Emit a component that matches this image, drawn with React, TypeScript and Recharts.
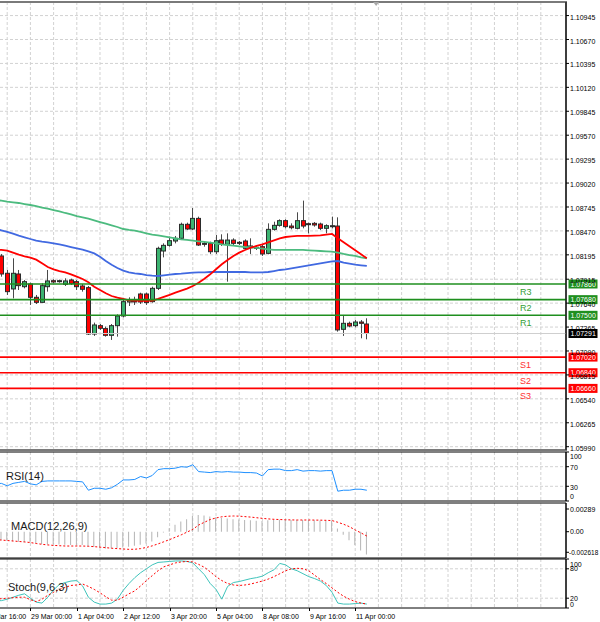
import React from 'react';
import {
  ComposedChart,
  Bar,
  Line,
  XAxis,
  YAxis,
  CartesianGrid,
  ReferenceLine,
  ReferenceArea,
  ReferenceDot,
} from 'recharts';

// ---------- data (H4 bars, index 0 = 29 Mar 00:00) ----------
const bars = [-6, -5, -4, -3, -2, -1, 0, 1, 2, 3, 4, 5, 6, 7, 8, 9, 10, 11, 12, 13, 14, 15, 16, 17, 18, 19, 20, 21, 22, 23, 24, 25, 26, 27, 28, 29, 30, 31, 32, 33, 34, 35, 36, 37, 38, 39, 40, 41, 42, 43, 44, 45, 46, 47, 48, 49, 50, 51, 52, 53, 54, 55, 56, 57, 58];

const open = [null, 1.08182, 1.07983, 1.07803, 1.07975, 1.07829, 1.07860, 1.07707, 1.07649, 1.07829, 1.07898, 1.07891, 1.07856, 1.07906, 1.07887, 1.07837,
  1.07818, 1.07285, 1.07381, 1.07347, 1.07270, 1.07381, 1.07492, 1.07653, 1.07657, 1.07745,
  1.07745, 1.07657, 1.07810, 1.08239, 1.08304, 1.08354, 1.08385, 1.08546, 1.08492, 1.08614,
  1.08327, 1.08327, 1.08231, 1.08365, 1.08316, 1.08365, 1.08339, 1.08354, 1.08277, 1.08281,
  1.08289, 1.08212, 1.08488, 1.08534, 1.08588, 1.08526, 1.08500, 1.08588, 1.08553, 1.08557,
  1.08549, 1.08500, 1.08523, 1.08526, 1.07339, 1.07408, 1.07381, 1.07423, 1.07400];
const high = [null, 1.08205, 1.08021, 1.08155, 1.08021, 1.07906, 1.07875, 1.07734, 1.07868, 1.08021, 1.07914, 1.07910, 1.07925, 1.07921, 1.07906, 1.07860,
  1.07837, 1.07416, 1.07400, 1.07370, 1.07400, 1.07511, 1.07684, 1.07707, 1.07714, 1.07760,
  1.07760, 1.07829, 1.08289, 1.08327, 1.08404, 1.08412, 1.08565, 1.08565, 1.08733, 1.08634,
  1.08354, 1.08346, 1.08423, 1.08431, 1.08442, 1.08385, 1.08354, 1.08373, 1.08385, 1.08304,
  1.08308, 1.08557, 1.08576, 1.08603, 1.08603, 1.08557, 1.08684, 1.08818, 1.08565, 1.08572,
  1.08565, 1.08546, 1.08634, 1.08626, 1.07504, 1.07427, 1.07446, 1.07446, 1.07466];
const low = [null, 1.07944, 1.07734, 1.07695, 1.07791, 1.07810, 1.07619, 1.07630, 1.07646, 1.07772, 1.07868, 1.07875, 1.07837, 1.07849, 1.07791, 1.07772,
  1.07274, 1.07263, 1.07332, 1.07255, 1.07217, 1.07255, 1.07477, 1.07607, 1.07619, 1.07630,
  1.07619, 1.07646, 1.07791, 1.08166, 1.08289, 1.08327, 1.08365, 1.08480, 1.08480, 1.08297,
  1.08289, 1.08205, 1.08205, 1.08297, 1.07887, 1.08308, 1.08308, 1.08251, 1.08205, 1.08251,
  1.08182, 1.08201, 1.08473, 1.08519, 1.08500, 1.08488, 1.08488, 1.08500, 1.08442, 1.08519,
  1.08480, 1.08442, 1.08500, 1.07312, 1.07263, 1.07362, 1.07362, 1.07236, 1.07224];
const close = [null, 1.07975, 1.07772, 1.07983, 1.07841, 1.07887, 1.07707, 1.07649, 1.07841, 1.07895, 1.07883, 1.07898, 1.07895, 1.07864, 1.07829, 1.07799,
  1.07285, 1.07389, 1.07351, 1.07270, 1.07381, 1.07492, 1.07657, 1.07676, 1.07665, 1.07653,
  1.07646, 1.07810, 1.08270, 1.08304, 1.08358, 1.08385, 1.08546, 1.08492, 1.08614, 1.08308,
  1.08316, 1.08231, 1.08358, 1.08316, 1.08365, 1.08327, 1.08327, 1.08270, 1.08297, 1.08270,
  1.08205, 1.08488, 1.08534, 1.08588, 1.08519, 1.08507, 1.08588, 1.08526, 1.08546, 1.08538,
  1.08500, 1.08530, 1.08530, 1.07332, 1.07408, 1.07377, 1.07423, 1.07408, 1.07291];

const maRed = [1.08258, 1.08251, 1.08243, 1.08220, 1.08197, 1.08178, 1.08163, 1.08140, 1.08098, 1.08055, 1.08029, 1.08009, 1.07994, 1.07971, 1.07944, 1.07918,
  1.07879, 1.07829, 1.07791, 1.07753, 1.07722, 1.07703, 1.07688, 1.07672, 1.07669, 1.07665,
  1.07665, 1.07669, 1.07688, 1.07711, 1.07734, 1.07761, 1.07783, 1.07806, 1.07837, 1.07875,
  1.07921, 1.07971, 1.08029, 1.08086, 1.08136, 1.08182, 1.08220, 1.08251, 1.08278, 1.08297,
  1.08316, 1.08339, 1.08362, 1.08385, 1.08400, 1.08408, 1.08412, 1.08412, 1.08412, 1.08415,
  1.08419, 1.08427, 1.08435, 1.08385, 1.08339, 1.08293, 1.08247, 1.08201, 1.08155];
const maBlue = [1.08492, 1.08477, 1.08458, 1.08438, 1.08415, 1.08396, 1.08377, 1.08358, 1.08346, 1.08339, 1.08327, 1.08316, 1.08301, 1.08285, 1.08270, 1.08255,
  1.08235, 1.08212, 1.08174, 1.08124, 1.08082, 1.08044, 1.08013, 1.07994, 1.07983, 1.07975,
  1.07963, 1.07956, 1.07952, 1.07960, 1.07967, 1.07975, 1.07979, 1.07986, 1.07990, 1.07994,
  1.07994, 1.07998, 1.07998, 1.07998, 1.07998, 1.07998, 1.07998, 1.07998, 1.07994, 1.07994,
  1.07994, 1.07998, 1.08009, 1.08021, 1.08029, 1.08040, 1.08052, 1.08063, 1.08075, 1.08086,
  1.08098, 1.08109, 1.08121, 1.08124, 1.08105, 1.08094, 1.08082, 1.08075, 1.08067];
const maGreen = [1.08825, 1.08818, 1.08806, 1.08798, 1.08791, 1.08779, 1.08768, 1.08756, 1.08737, 1.08726, 1.08710, 1.08695, 1.08676, 1.08661, 1.08641, 1.08626,
  1.08611, 1.08592, 1.08572, 1.08553, 1.08534, 1.08515, 1.08492, 1.08481, 1.08473, 1.08458,
  1.08442, 1.08427, 1.08419, 1.08408, 1.08396, 1.08385, 1.08373, 1.08366, 1.08358, 1.08350,
  1.08343, 1.08335, 1.08327, 1.08316, 1.08308, 1.08301, 1.08293, 1.08285, 1.08281, 1.08274,
  1.08266, 1.08258, 1.08251, 1.08251, 1.08251, 1.08251, 1.08251, 1.08251, 1.08247, 1.08243,
  1.08239, 1.08235, 1.08232, 1.08220, 1.08205, 1.08193, 1.08182, 1.08166, 1.08155];

const rsi = [35, 36, 31, 36, 38, 40, 35, 33, 40, 41, 41, 41, 41, 41, 40, 39,
  22, 26, 26, 24, 27, 34, 43, 43, 44, 50,
  47, 52, 64, 66, 66, 67, 70, 69, 74, 60,
  59, 58, 60, 59, 60, 59, 59, 58, 58, 57,
  51, 64, 65, 65, 62, 62, 64, 61, 62, 62,
  61, 62, 62, 20, 22, 22, 24, 24, 22];

const macdHist = [-0.00100, -0.00106, -0.00112, -0.00120, -0.00127, -0.00135, -0.00140, -0.00148, -0.00155, -0.00158, -0.00161, -0.00163, -0.00165, -0.00168, -0.00169, -0.00170,
  -0.00185, -0.00195, -0.00205, -0.00212, -0.00212, -0.00208, -0.00200, -0.00190, -0.00178, -0.00165,
  -0.00150, -0.00125, -0.00070, -0.00010, 0.00043, 0.00090, 0.00130, 0.00160, 0.00200, 0.00212,
  0.00205, 0.00195, 0.00185, 0.00175, 0.00168, 0.00160, 0.00155, 0.00150, 0.00145, 0.00140,
  0.00135, 0.00145, 0.00150, 0.00152, 0.00150, 0.00148, 0.00150, 0.00150, 0.00148, 0.00145,
  0.00142, 0.00140, 0.00138, 0.00040, -0.00040, -0.00110, -0.00170, -0.00240, -0.00290];
const macdSignal = [-0.00102, -0.00106, -0.00112, -0.00118, -0.00124, -0.00130, -0.00138, -0.00150, -0.00160, -0.00168, -0.00174, -0.00178, -0.00182, -0.00182, -0.00182, -0.00182,
  -0.00185, -0.00190, -0.00196, -0.00203, -0.00210, -0.00215, -0.00220, -0.00224, -0.00223, -0.00215,
  -0.00200, -0.00180, -0.00155, -0.00128, -0.00100, -0.00070, -0.00040, -0.00005, 0.00030, 0.00085,
  0.00120, 0.00155, 0.00175, 0.00190, 0.00197, 0.00200, 0.00198, 0.00192, 0.00186, 0.00178,
  0.00170, 0.00163, 0.00158, 0.00155, 0.00152, 0.00150, 0.00149, 0.00149, 0.00149, 0.00148,
  0.00147, 0.00145, 0.00142, 0.00120, 0.00095, 0.00064, 0.00022, -0.00015, -0.00055];

const stochK = [15, 15, 18, 22, 26, 29, 20, 12, 10, 22, 37, 48, 52, 55, 56, 45,
  22, 12, 8, 8, 10, 18, 36, 50, 62, 72,
  80, 88, 93, 94, 95, 96, 96, 95, 92, 80,
  68, 50, 38, 18, 44, 52, 54, 57, 60, 62,
  65, 72, 78, 91, 88, 80, 76, 70, 64, 60,
  55, 46, 32, 10, 8, 8, 9, 10, 8];
const stochD = [18, 19, 20, 21, 22, 22, 17, 13, 18, 26, 32, 38, 42, 46, 47, 49,
  44, 38, 31, 23, 16, 16, 22, 29, 35, 45,
  56, 66, 76, 84, 88, 92, 94, 95, 94, 89,
  83, 74, 64, 56, 50, 47, 46, 47, 49, 52,
  55, 59, 64, 70, 76, 80, 81, 80, 76, 67,
  58, 50, 41, 32, 24, 18, 13, 10, 8];

const timeLabelBars = [-8, 0, 8, 16, 24, 32, 40, 48, 56];
const timeLabels = ['27 Mar 16:00', '29 Mar 00:00', '1 Apr 04:00', '2 Apr 12:00', '3 Apr 20:00', '5 Apr 04:00', '8 Apr 08:00', '9 Apr 16:00', '11 Apr 00:00'];
const gridBars = [-8, -4, 0, 4, 8, 12, 16, 20, 24, 28, 32, 36, 40, 44, 48, 52, 56, 60, 64, 68, 72, 76, 80, 84, 88];

const priceTicks = [1.10945, 1.1067, 1.10395, 1.1012, 1.09845, 1.0957, 1.09295, 1.0902, 1.08745, 1.0847, 1.08195, 1.07915, 1.0764, 1.07365, 1.0709, 1.06815, 1.0654, 1.06265, 1.0599];

const levelNames = ['R3', 'R2', 'R1', 'S1', 'S2', 'S3'];
const levelValues = [1.0786, 1.0768, 1.075, 1.0702, 1.0684, 1.0666];
const lastPrice = 1.07291;

const rsiTicks = [100, 70, 30, 0];
const rsiLevels = [70, 30];
const macdTicks = [0.00289, 0, -0.002618];
const macdTickLabels = ['0.00289', '0.00', '-0.002618'];
const stochTicks = [100, 80, 20, 0];
const stochLevels = [80, 20];

// ---------- layout / style ----------
const X_DOMAIN: [number, number] = [-5.24, 92.34];
const PRICE_DOMAIN: [number, number] = [1.05952, 1.11101];
const MACD_DOMAIN: [number, number] = [-0.003344, 0.003654];
const AXIS_W = 34;
const SHIFT_BAR = 59.6;
const FONT = '"Liberation Sans", Arial, sans-serif';
const GRID = '#d2d2d2';
const BULL = '#3cb371';
const BEAR = '#ff0000';
const R_COLOR = '#1f8f1f';
const R_TEXT = '#35a035';
const S_COLOR = '#ff0000';
const S_TEXT = '#ff3030';

const mainRows = bars.map((j, i) => ({
  j,
  o: open[i],
  h: high[i],
  l: low[i],
  c: close[i],
  maFast: maRed[i],
  maMid: maBlue[i],
  maSlow: maGreen[i],
}));

const indRows = bars.map((j, i) => ({
  j,
  rsi: rsi[i],
  hist: macdHist[i],
  sig: macdSignal[i],
  k: stochK[i],
  d: stochD[i],
}));

const candleRange = (d: any) => (d.o == null ? null : [d.l, d.h]);

function Candle(props: any) {
  const { x, y, width, height, payload } = props;
  if (!payload || payload.o == null || x == null || y == null) return <g />;
  const top = Math.min(y, y + height);
  const bottom = Math.max(y, y + height);
  const span = payload.h - payload.l;
  const toY = (v: number) => (span > 0 ? top + ((payload.h - v) / span) * (bottom - top) : top);
  const cx = Math.round(x + width / 2);
  const yo = toY(payload.o);
  const yc = toY(payload.c);
  const bull = payload.c > payload.o;
  const bodyTop = Math.min(yo, yc);
  const bodyH = Math.max(Math.abs(yc - yo), 1);
  return (
    <g>
      <line x1={cx + 0.5} x2={cx + 0.5} y1={top} y2={bottom} stroke="#4a4a4a" strokeWidth={1} />
      <rect x={cx - 1.5} y={bodyTop} width={4} height={bodyH} fill={bull ? BULL : BEAR} stroke="#2b2b2b" strokeWidth={1} />
    </g>
  );
}

function PriceTick(props: any) {
  const { x, y, payload } = props;
  return (
    <text x={x} y={y + 4} fontSize={7} fill="#000" fontFamily={FONT}>
      {Number(payload.value).toFixed(5)}
    </text>
  );
}

function makeTick(fmt: (v: number) => string, shift: (v: number) => number) {
  return (props: any) => {
    const { x, y, payload } = props;
    const v = payload.value;
    const txt = fmt(v);
    const long = txt.length > 8;
    return (
      <text x={long ? x - 1 : x} y={y + shift(v) + 2.5} fontSize={long ? 6.5 : 7} fill="#000" fontFamily={FONT}>
        {txt}
      </text>
    );
  };
}

const RsiTick = makeTick((v) => String(v), (v) => (v === 100 ? 4 : v === 0 ? -4.5 : 1));
const StochTick = makeTick((v) => String(v), (v) => (v === 100 ? 5 : v === 0 ? -4 : 0));
const MacdTick = makeTick((v) => macdTickLabels[macdTicks.indexOf(v)] ?? String(v), () => 0);

function TimeTick(props: any) {
  const { x, y, payload } = props;
  const i = timeLabelBars.indexOf(payload.value);
  if (i < 0) return <g />;
  const px = Math.round(x);
  return (
    <g>
      <line x1={px + 0.5} x2={px + 0.5} y1={y} y2={y + 3} stroke="#000" strokeWidth={1} />
      <text x={px + 1} y={y + 11} fontSize={7} fill="#000" fontFamily={FONT}>
        {timeLabels[i]}
      </text>
    </g>
  );
}

function levelLabel(name: string | null, value: number, boxColor: string, textColor: string) {
  return (props: any) => {
    const vb = props.viewBox || {};
    const right = (vb.x ?? 0) + (vb.width ?? 0);
    const y = vb.y ?? 0;
    return (
      <g>
        {name ? (
          <text x={right - 46} y={y + 11} fontSize={9} fill={textColor} fontFamily={FONT}>
            {name}
          </text>
        ) : null}
        <rect x={right + 2.5} y={y - 4.5} width={29} height={9} fill={boxColor} />
        <text x={right + 4.5} y={y + 2.6} fontSize={7} fill="#fff" fontFamily={FONT}>
          {value.toFixed(5)}
        </text>
      </g>
    );
  };
}

function ShiftMark(props: any) {
  const { cx, cy } = props;
  if (cx == null || cy == null) return <g />;
  return <polygon points={`${cx - 3},${cy} ${cx + 3},${cy} ${cx},${cy + 4}`} fill="#a8a8a8" />;
}

const titleStyle: React.CSSProperties = {
  position: 'absolute',
  fontFamily: FONT,
  fontSize: 11,
  lineHeight: '12px',
  color: '#1a1a1a',
  whiteSpace: 'nowrap',
  pointerEvents: 'none',
};

export default function App() {
  return (
    <div style={{ position: 'absolute', left: 0, top: 0, width: 600, height: 622, background: '#fff', overflow: 'hidden', fontFamily: FONT }}>
      {/* main price panel */}
      <div style={{ position: 'absolute', left: 0, top: 0 }}>
        <ComposedChart width={600} height={452} data={mainRows} margin={{ top: 2, right: 0, bottom: 2, left: 0 }}>
          <CartesianGrid stroke={GRID} strokeDasharray="3 2" horizontalValues={priceTicks} verticalValues={gridBars} />
          <XAxis dataKey="j" type="number" domain={X_DOMAIN} allowDataOverflow hide ticks={gridBars} />
          <YAxis
            orientation="right"
            width={AXIS_W}
            domain={PRICE_DOMAIN}
            allowDataOverflow
            ticks={priceTicks}
            interval={0}
            tick={PriceTick}
            tickSize={3}
            tickMargin={1}
            axisLine={{ stroke: '#000' }}
            tickLine={{ stroke: '#000' }}
          />
          <Bar dataKey={candleRange} shape={Candle} barSize={5} isAnimationActive={false} />
          <Line dataKey="maSlow" type="linear" stroke="#4cbb7f" strokeWidth={1.8} dot={false} isAnimationActive={false} />
          <Line dataKey="maMid" type="linear" stroke="#4169e1" strokeWidth={1.8} dot={false} isAnimationActive={false} />
          <Line dataKey="maFast" type="linear" stroke="#ff0000" strokeWidth={1.8} dot={false} isAnimationActive={false} />
          <ReferenceLine y={lastPrice} stroke="#cfcfcf" strokeWidth={1} label={levelLabel(null, lastPrice, '#000', '#000')} />
          {levelNames.map((n, i) => {
            const isR = n.startsWith('R');
            return (
              <ReferenceLine
                key={n}
                y={levelValues[i]}
                stroke={isR ? R_COLOR : S_COLOR}
                strokeWidth={1.6}
                label={levelLabel(n, levelValues[i], isR ? R_COLOR : S_COLOR, isR ? R_TEXT : S_TEXT)}
              />
            );
          })}
          <ReferenceArea x1={X_DOMAIN[0] - 2} ifOverflow="visible" fill="none" stroke="#7a7a7a" strokeWidth={2} />
          <ReferenceDot x={SHIFT_BAR} y={PRICE_DOMAIN[1]} ifOverflow="visible" shape={ShiftMark} />
        </ComposedChart>
      </div>

      {/* RSI panel */}
      <div style={{ position: 'absolute', left: 0, top: 451 }}>
        <ComposedChart width={600} height={51} data={indRows} margin={{ top: 1, right: 0, bottom: 1, left: 0 }}>
          <CartesianGrid stroke={GRID} strokeDasharray="3 2" horizontalValues={rsiLevels} verticalValues={gridBars} />
          <XAxis dataKey="j" type="number" domain={X_DOMAIN} allowDataOverflow hide ticks={gridBars} />
          <YAxis
            orientation="right"
            width={AXIS_W}
            domain={[0, 100]}
            allowDataOverflow
            ticks={rsiTicks}
            interval={0}
            tick={RsiTick}
            tickSize={3}
            tickMargin={1}
            axisLine={{ stroke: '#000' }}
            tickLine={{ stroke: '#000' }}
          />
          <Line dataKey="rsi" type="linear" stroke="#1e90ff" strokeWidth={1} dot={false} isAnimationActive={false} />
          <ReferenceArea x1={X_DOMAIN[0] - 2} ifOverflow="visible" fill="none" stroke="#000" strokeWidth={1} />
        </ComposedChart>
      </div>

      {/* MACD panel */}
      <div style={{ position: 'absolute', left: 0, top: 502 }}>
        <ComposedChart width={600} height={57} data={indRows} margin={{ top: 1, right: 0, bottom: 1, left: 0 }}>
          <CartesianGrid stroke={GRID} strokeDasharray="3 2" horizontal={false} verticalValues={gridBars} />
          <XAxis dataKey="j" type="number" domain={X_DOMAIN} allowDataOverflow hide ticks={gridBars} />
          <YAxis
            orientation="right"
            width={AXIS_W}
            domain={MACD_DOMAIN}
            allowDataOverflow
            ticks={macdTicks}
            interval={0}
            tick={MacdTick}
            tickSize={3}
            tickMargin={1}
            axisLine={{ stroke: '#000' }}
            tickLine={{ stroke: '#000' }}
          />
          <Bar dataKey="hist" barSize={1} fill="#b4b4b4" isAnimationActive={false} />
          <Line dataKey="sig" type="linear" stroke="#ff0000" strokeWidth={1} strokeDasharray="2 2" dot={false} isAnimationActive={false} />
          <ReferenceArea x1={X_DOMAIN[0] - 2} ifOverflow="visible" fill="none" stroke="#000" strokeWidth={1} />
        </ComposedChart>
      </div>

      {/* Stochastic panel + time axis */}
      <div style={{ position: 'absolute', left: 0, top: 558 }}>
        <ComposedChart width={600} height={64} data={indRows} margin={{ top: 1, right: 0, bottom: 0, left: 0 }}>
          <CartesianGrid stroke={GRID} strokeDasharray="3 2" horizontalValues={stochLevels} verticalValues={gridBars} />
          <XAxis
            dataKey="j"
            type="number"
            domain={X_DOMAIN}
            allowDataOverflow
            ticks={gridBars}
            interval={0}
            height={14}
            tick={TimeTick}
            tickLine={false}
            axisLine={false}
            tickSize={0}
            tickMargin={0}
          />
          <YAxis
            orientation="right"
            width={AXIS_W}
            domain={[0, 100]}
            allowDataOverflow
            ticks={stochTicks}
            interval={0}
            tick={StochTick}
            tickSize={3}
            tickMargin={1}
            axisLine={{ stroke: '#000' }}
            tickLine={{ stroke: '#000' }}
          />
          <Line dataKey="k" type="linear" stroke="#3fc4bb" strokeWidth={1} dot={false} isAnimationActive={false} />
          <Line dataKey="d" type="linear" stroke="#ff0000" strokeWidth={1} strokeDasharray="2 2" dot={false} isAnimationActive={false} />
          <ReferenceArea x1={X_DOMAIN[0] - 2} ifOverflow="visible" fill="none" stroke="#000" strokeWidth={1} />
        </ComposedChart>
      </div>

      <div style={{ ...titleStyle, left: 6, top: 470 }}>RSI(14)</div>
      <div style={{ ...titleStyle, left: 11, top: 520 }}>MACD(12,26,9)</div>
      <div style={{ ...titleStyle, left: 8, top: 581 }}>Stoch(9,6,3)</div>
    </div>
  );
}
